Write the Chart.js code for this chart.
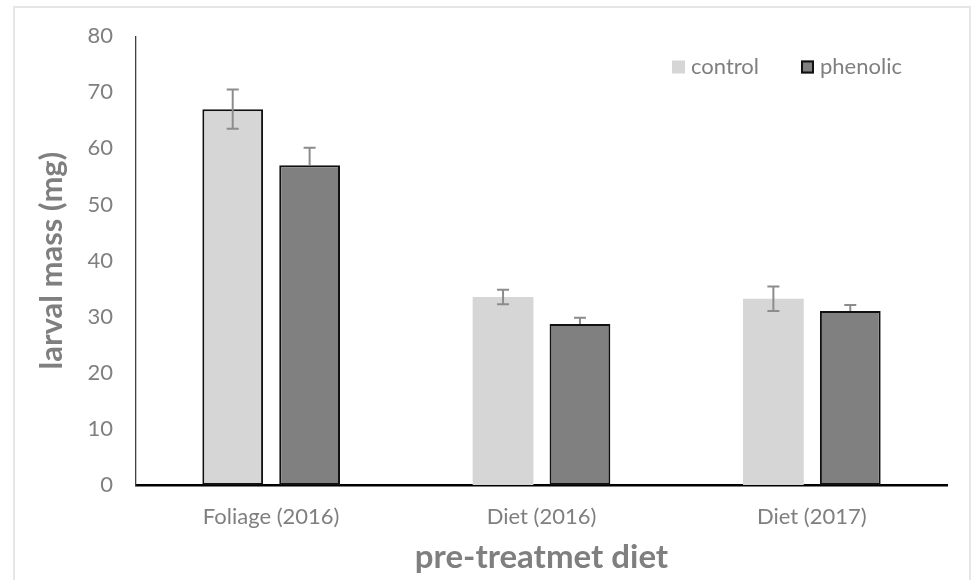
<!DOCTYPE html>
<html>
<head>
<meta charset="utf-8">
<script src="https://cdn.jsdelivr.net/npm/chart.js@4/dist/chart.umd.min.js"></script>
<style>
  html, body { margin: 0; padding: 0; background: #fff; }
  #wrap { position: relative; width: 975px; height: 580px; }
  #frame { position: absolute; left: 13px; top: 6px; width: 958px; height: 600px;
           border: 2px solid #e6e6e6; border-bottom: none; box-sizing: border-box; }
  canvas { position: absolute; left: 0; top: 0; }
</style>
</head>
<body>
<div id="wrap">
  <div id="frame"></div>
  <canvas id="chart" width="975" height="580"></canvas>
</div>
<script>
// Larval mass by pre-treatment diet, mean ± SE
const categories = ['Foliage (2016)', 'Diet (2016)', 'Diet (2017)'];
const seriesNames = ['control', 'phenolic'];
const controlMass = [67.0, 33.5, 33.2];
const controlErr = [3.5, 1.3, 2.2];
const phenolicMass = [57.0, 28.7, 31.0];
const phenolicErr = [3.1, 1.1, 1.1];
const yMin = 0, yMax = 80, yStep = 10;

const textGray = '#7f7f7f';
const fontFamily = 'Lato, "Open Sans", sans-serif';

// Whiskers drawn over the bars; phenolic shows only the upper half
const errorBars = {
  id: 'errorBars',
  afterDatasetsDraw(chart) {
    const ctx = chart.ctx;
    const y = chart.scales.y;
    chart.data.datasets.forEach((ds, di) => {
      const meta = chart.getDatasetMeta(di);
      meta.data.forEach((bar, i) => {
        const v = ds.data[i], e = ds.errors[i];
        const top = y.getPixelForValue(v + e);
        const bottom = ds.upperOnly ? y.getPixelForValue(v) : y.getPixelForValue(v - e);
        ctx.save();
        ctx.strokeStyle = '#8c8c8c';
        ctx.lineWidth = 2;
        ctx.beginPath();
        ctx.moveTo(bar.x, top); ctx.lineTo(bar.x, bottom);
        ctx.moveTo(bar.x - 6, top); ctx.lineTo(bar.x + 6, top);
        if (!ds.upperOnly) { ctx.moveTo(bar.x - 6, bottom); ctx.lineTo(bar.x + 6, bottom); }
        ctx.stroke();
        ctx.restore();
      });
    });
  }
};

// Legend inside the plot, upper right
const insideLegend = {
  id: 'insideLegend',
  afterDraw(chart) {
    const ctx = chart.ctx;
    const items = [
      { x: 672, ds: chart.data.datasets[0] },
      { x: 801, ds: chart.data.datasets[1] }
    ];
    const cy = 67;
    ctx.save();
    ctx.font = '22px ' + fontFamily;
    ctx.textBaseline = 'middle';
    ctx.textAlign = 'left';
    items.forEach(it => {
      const c = it.ds.backgroundColor;
      ctx.fillStyle = c;
      ctx.fillRect(it.x, cy - 6.5, 13, 13);
      if (it.ds.label === 'phenolic') {
        ctx.strokeStyle = '#111';
        ctx.lineWidth = 2;
        ctx.strokeRect(it.x + 1, cy - 5.5, 11, 11);
      }
      ctx.fillStyle = textGray;
      ctx.fillText(it.ds.label, it.x + 19, cy);
    });
    ctx.restore();
  }
};

new Chart(document.getElementById('chart'), {
  type: 'bar',
  data: {
    labels: categories,
    datasets: [
      {
        label: seriesNames[0],
        data: controlMass,
        errors: controlErr,
        backgroundColor: '#d6d6d6',
        borderColor: '#111111',
        borderWidth: [2, 0, 0],
        borderSkipped: false,
        categoryPercentage: 0.569,
        barPercentage: 0.79
      },
      {
        label: seriesNames[1],
        data: phenolicMass,
        errors: phenolicErr,
        upperOnly: true,
        backgroundColor: '#808080',
        borderColor: '#111111',
        borderWidth: 2,
        borderSkipped: false,
        categoryPercentage: 0.569,
        barPercentage: 0.79
      }
    ]
  },
  options: {
    responsive: false,
    animation: false,
    devicePixelRatio: 1,
    layout: { padding: { top: 24.5, right: 28, left: 0, bottom: 0 } },
    plugins: {
      legend: { display: false },
      tooltip: { enabled: false }
    },
    scales: {
      x: {
        grid: { display: false, drawTicks: false },
        border: { display: true, color: '#000', width: 2.5 },
        ticks: { color: textGray, font: { family: fontFamily, size: 22 }, padding: 19, maxRotation: 0 },
        title: { display: true, text: 'pre-treatmet diet', color: textGray,
                 font: { family: fontFamily, size: 33, weight: 'bold' }, padding: { top: 0, bottom: 3 } },
        afterFit(scale) { scale.height = 95; }
      },
      y: {
        min: yMin, max: yMax,
        grid: { display: false, drawTicks: false },
        border: { display: true, color: '#404040', width: 1.3 },
        ticks: { stepSize: yStep, color: textGray, font: { family: fontFamily, size: 22 }, padding: 23 },
        title: { display: true, text: 'larval mass (mg)', color: textGray,
                 font: { family: fontFamily, size: 31, weight: 'bold' }, padding: { top: 33, bottom: 0 } },
        afterFit(scale) { scale.width = 136; }
      }
    }
  },
  plugins: [errorBars, insideLegend]
});
</script>
</body>
</html>
